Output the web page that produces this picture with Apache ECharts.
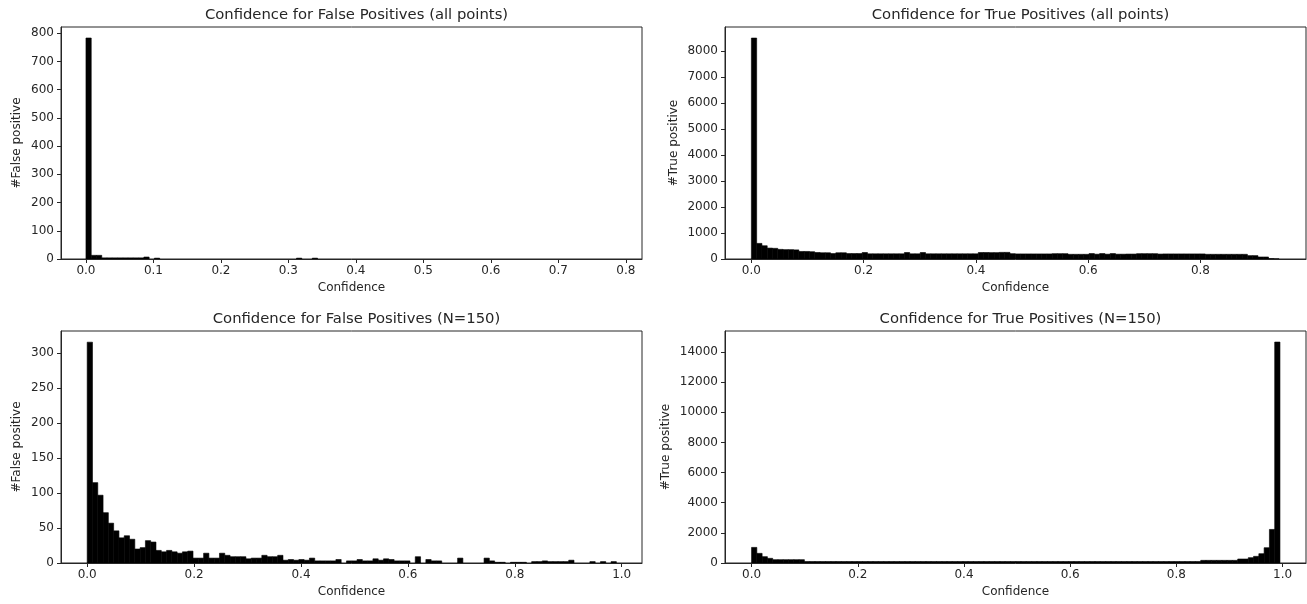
<!DOCTYPE html>
<html>
<head>
<meta charset="utf-8">
<script src="https://cdn.jsdelivr.net/npm/echarts@6.0.0/dist/echarts.min.js"></script>
<style>
  html, body { margin: 0; padding: 0; background: #fff; }
  #chart { width: 1307px; height: 604px; }
</style>
</head>
<body>
<div id="chart"></div>
<script>
// histogram counts, 100 bins each
var fpAllRange = [0, 0.78];
var fpAllCounts = [
  783, 13, 13, 4, 4, 4, 4, 4, 4, 4,
  4, 7, 0, 3, 0, 0, 0, 0, 0, 0,
  0, 0, 0, 0, 0, 0, 0, 0, 0, 0,
  0, 0, 0, 0, 0, 0, 0, 0, 0, 0,
  3, 0, 0, 3, 0, 0, 0, 0, 0, 0,
  0, 0, 0, 0, 0, 0, 0, 0, 0, 0,
  0, 0, 0, 0, 0, 0, 0, 0, 0, 0,
  0, 0, 0, 0, 0, 0, 0, 0, 0, 0,
  0, 0, 0, 0, 0, 0, 0, 0, 0, 0,
  0, 0, 0, 0, 0, 0, 0, 0, 0, 0
];

var tpAllRange = [0, 0.94];
var tpAllCounts = [
  8500, 600, 510, 420, 410, 370, 360, 360, 350, 290,
  290, 280, 250, 240, 240, 210, 240, 240, 210, 210,
  210, 250, 200, 200, 200, 200, 200, 200, 200, 250,
  200, 200, 250, 200, 200, 200, 200, 200, 200, 200,
  200, 200, 200, 250, 250, 245, 245, 255, 255, 205,
  195, 195, 195, 195, 195, 195, 195, 205, 205, 205,
  180, 180, 180, 180, 210, 185, 210, 185, 210, 185,
  185, 190, 190, 205, 205, 205, 205, 190, 195, 195,
  195, 195, 195, 195, 195, 195, 180, 180, 180, 180,
  180, 180, 180, 180, 130, 130, 78, 78, 15, 5
];

var fp150Range = [0, 0.99];
var fp150Counts = [
  316, 115, 97, 72, 57, 46, 36, 39, 34, 20,
  22, 32, 30, 18, 16, 18, 16, 14, 16, 17,
  7, 7, 14, 7, 7, 14, 11, 9, 9, 9,
  6, 7, 7, 11, 9, 9, 11, 4, 5, 4,
  5, 4, 7, 3, 3, 3, 3, 5, 0, 3,
  3, 5, 3, 3, 6, 4, 6, 5, 3, 3,
  3, 0, 9, 0, 5, 3, 3, 0, 0, 0,
  7, 0, 0, 0, 0, 7, 3, 1, 1, 0,
  1, 1, 1, 0, 2, 2, 3, 2, 2, 2,
  2, 4, 0, 0, 0, 2, 0, 2, 0, 2
];

var tp150Range = [0, 0.995];
var tp150Counts = [
  1035, 640, 420, 310, 220, 220, 220, 220, 220, 220,
  100, 100, 100, 100, 100, 100, 100, 100, 100, 100,
  100, 100, 100, 100, 100, 100, 100, 100, 100, 100,
  100, 100, 100, 100, 100, 100, 100, 100, 100, 100,
  100, 100, 100, 100, 100, 100, 100, 100, 100, 100,
  100, 100, 100, 100, 100, 100, 100, 100, 100, 100,
  100, 100, 100, 100, 100, 100, 100, 100, 100, 100,
  100, 100, 100, 100, 100, 100, 100, 100, 100, 100,
  100, 100, 100, 100, 100, 176, 176, 176, 176, 176,
  176, 176, 265, 265, 353, 441, 617, 1014, 2227, 14660
];

var titles = [
  'Confidence for False Positives (all points)',
  'Confidence for True Positives (all points)',
  'Confidence for False Positives (N=150)',
  'Confidence for True Positives (N=150)'
];
var yNames = ['#False positive', '#True positive', '#False positive', '#True positive'];

var xTicksFpAll = [0, 0.1, 0.2, 0.3, 0.4, 0.5, 0.6, 0.7, 0.8];
var xTicksTpAll = [0, 0.2, 0.4, 0.6, 0.8];
var xTicks150 = [0, 0.2, 0.4, 0.6, 0.8, 1.0];
var yTicksFpAll = [0, 100, 200, 300, 400, 500, 600, 700, 800];
var yTicksTpAll = [0, 1000, 2000, 3000, 4000, 5000, 6000, 7000, 8000];
var yTicksFp150 = [0, 50, 100, 150, 200, 250, 300];
var yTicksTp150 = [0, 2000, 4000, 6000, 8000, 10000, 12000, 14000];

// turn counts into [binStart, binEnd, count]
function toBins(range, counts) {
    var w = (range[1] - range[0]) / counts.length;
    var out = [];
    for (var i = 0; i < counts.length; i++) {
        out.push([range[0] + i * w, range[0] + (i + 1) * w, counts[i]]);
    }
    return out;
}

function renderBin(params, api) {
    if (!api.value(2)) return null;
    var p0 = api.coord([api.value(0), api.value(2)]);
    var p1 = api.coord([api.value(1), 0]);
    return {
        type: 'rect',
        shape: {x: p0[0], y: p0[1], width: p1[0] - p0[0], height: p1[1] - p0[1]},
        style: {fill: '#000', stroke: '#000', lineWidth: 0.6}
    };
}

var font = 'DejaVu Sans';
var ink = '#262626';

var panels = [
    {left: 61,  top: 27,  xMin: -0.037, xMax: 0.824, yMax: 822,   xTicks: xTicksFpAll, yTicks: yTicksFpAll, gap: 38, data: toBins(fpAllRange, fpAllCounts)},
    {left: 725, top: 27,  xMin: -0.047, xMax: 0.988, yMax: 8925,  xTicks: xTicksTpAll, yTicks: yTicksTpAll, gap: 45, data: toBins(tpAllRange, tpAllCounts)},
    {left: 61,  top: 331, xMin: -0.049, xMax: 1.038, yMax: 332,   xTicks: xTicks150,   yTicks: yTicksFp150, gap: 38, data: toBins(fp150Range, fp150Counts)},
    {left: 725, top: 331, xMin: -0.050, xMax: 1.044, yMax: 15393, xTicks: xTicks150,   yTicks: yTicksTp150, gap: 53, data: toBins(tp150Range, tp150Counts)}
];

var option = {
    animation: false,
    backgroundColor: '#fff',
    title: [], grid: [], xAxis: [], yAxis: [], series: []
};

panels.forEach(function (p, k) {
    var w = 581, h = 232;
    option.title.push({
        text: titles[k],
        left: p.left + w / 2,
        top: p.top - 24,
        textAlign: 'center',
        textStyle: {fontFamily: font, fontSize: 14.8, fontWeight: 'normal', color: ink}
    });
    option.grid.push({
        left: p.left, top: p.top, width: w, height: h,
        show: true, borderColor: ink, borderWidth: 1, backgroundColor: 'transparent'
    });
    option.xAxis.push({
        type: 'value', gridIndex: k, min: p.xMin, max: p.xMax,
        name: 'Confidence', nameLocation: 'middle', nameGap: 23,
        nameTextStyle: {fontFamily: font, fontSize: 12, color: ink},
        axisLine: {show: true, onZero: false, lineStyle: {color: ink, width: 1}},
        axisTick: {show: true, length: 4, customValues: p.xTicks, lineStyle: {color: ink}},
        axisLabel: {
            customValues: p.xTicks, margin: 6,
            fontFamily: font, fontSize: 12, color: ink,
            formatter: function (v) { return v.toFixed(1); }
        },
        splitLine: {show: false}
    });
    option.yAxis.push({
        type: 'value', gridIndex: k, min: 0, max: p.yMax,
        name: yNames[k], nameLocation: 'middle', nameGap: p.gap,
        nameTextStyle: {fontFamily: font, fontSize: 12, color: ink},
        axisLine: {show: true, onZero: false, lineStyle: {color: ink, width: 1}},
        axisTick: {show: true, length: 4, customValues: p.yTicks, lineStyle: {color: ink}},
        axisLabel: {
            customValues: p.yTicks, margin: 7, fontFamily: font, fontSize: 12, color: ink,
            formatter: function (v) { return String(v); }
        },
        splitLine: {show: false}
    });
    option.series.push({
        type: 'custom',
        xAxisIndex: k, yAxisIndex: k,
        renderItem: renderBin,
        encode: {x: [0, 1], y: 2},
        clip: true,
        data: p.data
    });
});

var myChart = echarts.init(document.getElementById('chart'));
myChart.setOption(option);
</script>
</body>
</html>
